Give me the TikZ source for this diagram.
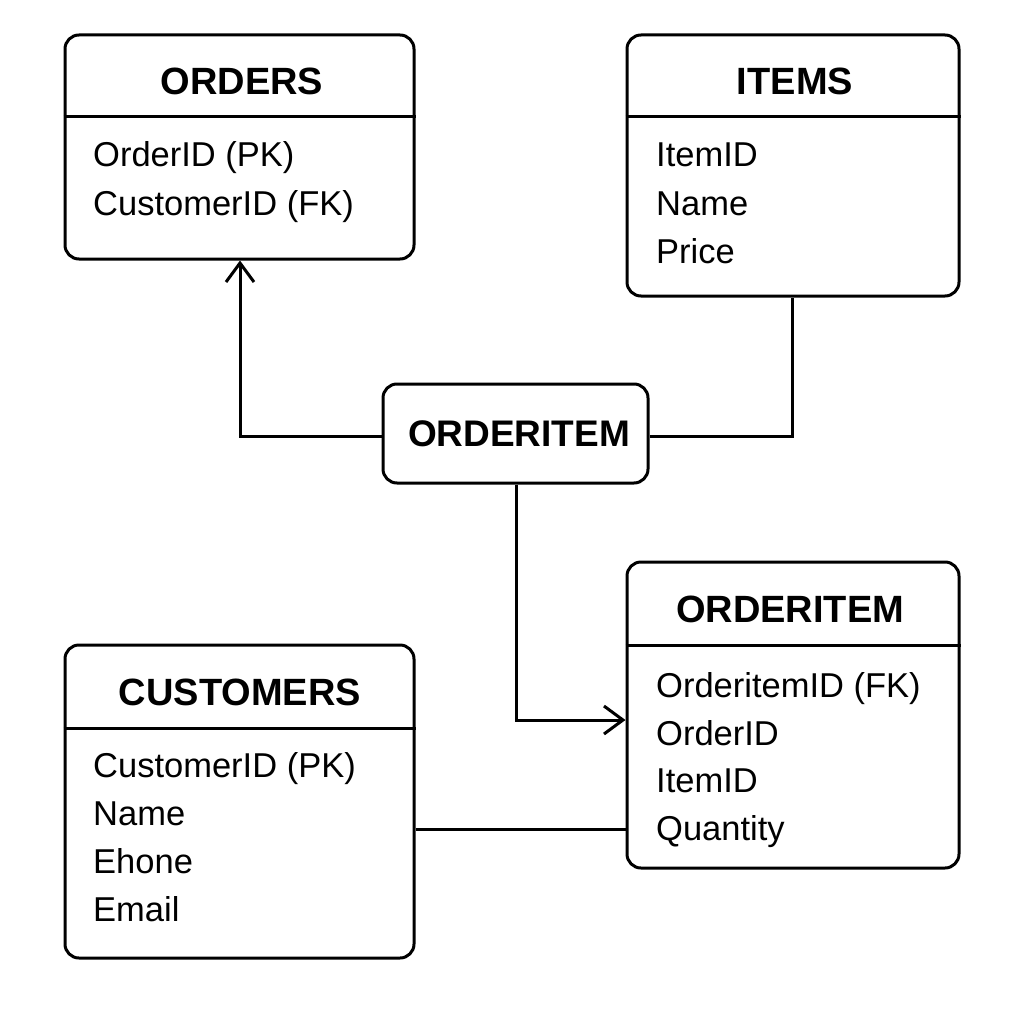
\documentclass[tikz,border=0pt]{standalone}
\usepackage{fontspec}
\setmainfont{Liberation Sans}
\usetikzlibrary{arrows.meta}
\begin{document}
\begin{tikzpicture}[x=1pt,y=-1pt,
  box/.style={draw,line width=3pt,rounded corners=14pt,inner sep=0pt},
  ttl/.style={font=\fontsize{38}{44}\selectfont\bfseries,anchor=base,inner sep=0pt},
  fld/.style={font=\fontsize{34.5}{40}\selectfont,anchor=base west,inner sep=0pt},
  conn/.style={line width=3pt},
  tip/.style={-{Straight Barb[length=19pt,width=28pt,line width=3pt]}}]
\useasboundingbox[fill=white] (0,0) rectangle (1024,1024);
% ORDERS
\node[box,minimum width=349pt,minimum height=224pt] (orders) at (239.5,147) {};
\draw[line width=3pt] (orders.west |- 0,117) -- (orders.east |- 0,117);
\node[ttl] (ordersT) at (242,95) {ORDERS};
\node[fld] (o1) at (93,167) {OrderID (PK)};
\node[fld] (o2) at (93,215) {CustomerID (FK)};
% ITEMS
\node[box,minimum width=332pt,minimum height=261pt] (items) at (793,165.5) {};
\draw[line width=3pt] (items.west |- 0,117) -- (items.east |- 0,117);
\node[ttl] (itemsT) at (795,95) {ITEMS};
\node[fld] (i1) at (656,167) {ItemID};
\node[fld] (i2) at (656,215) {Name};
\node[fld] (i3) at (656,263) {Price};
% ORDERITEM (center)
\node[box,minimum width=265pt,minimum height=99pt] (oi) at (515.5,433.5) {};
\node[ttl,font=\fontsize{37}{44}\selectfont\bfseries] (oiT) at (519,446) {ORDERITEM};
% ORDERITEM table
\node[box,minimum width=332pt,minimum height=306pt] (oit) at (793,715) {};
\draw[line width=3pt] (oit.west |- 0,645) -- (oit.east |- 0,645);
\node[ttl] (oitT) at (790,622) {ORDERITEM};
\node[fld] (t1) at (656,697) {OrderitemID (FK)};
\node[fld] (t2) at (656,745) {OrderID};
\node[fld] (t3) at (656,792) {ItemID};
\node[fld] (t4) at (656,840) {Quantity};
% CUSTOMERS
\node[box,minimum width=349pt,minimum height=313pt] (cust) at (239.5,801.5) {};
\draw[line width=3pt] (cust.west |- 0,728) -- (cust.east |- 0,728);
\node[ttl] (custT) at (240,705) {CUSTOMERS};
\node[fld] (c1) at (93,777) {CustomerID (PK)};
\node[fld] (c2) at (93,825) {Name};
\node[fld] (c3) at (93,873) {Ehone};
\node[fld] (c4) at (93,921) {Email};
% connectors
\draw[conn,tip] (oi.west |- 0,436) -| (orders.south -| 240,0);
\draw[conn] (oi.east |- 0,436) -| (items.south -| 792,0);
\draw[conn,tip] (oi.south -| 516,0) |- (oit.west |- 0,720);
\draw[conn] (cust.east |- 0,829) -- (oit.west |- 0,829);
\end{tikzpicture}
\end{document}
